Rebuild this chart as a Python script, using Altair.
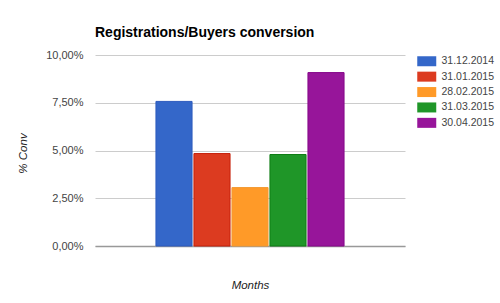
import altair as alt
import pandas as pd

dates = ["31.12.2014", "31.01.2015", "28.02.2015", "31.03.2015", "30.04.2015"]
conv = [0.0757, 0.0484, 0.0306, 0.0479, 0.0908]
fills = ["#3467c9", "#dc3b20", "#ff9a28", "#1f9628", "#97159a"]
strokes = ["#2d5bbd", "#c5200a", "#f39a33", "#0f7d15", "#86088a"]
ticks = [0, 0.025, 0.05, 0.075, 0.1]

df = pd.DataFrame({"group": ["Months"] * len(dates), "date": dates, "conv": conv})

font = "Liberation Sans"

chart = (
    alt.Chart(df)
    .mark_bar(strokeWidth=1)
    .encode(
        x=alt.X(
            "group:N",
            title="Months",
            scale=alt.Scale(paddingOuter=0.324, paddingInner=0),
            axis=alt.Axis(
                labels=False, ticks=False, domainColor="#999999", domainWidth=1.5,
                titleFont=font, titleFontSize=11.5, titleFontStyle="italic",
                titleFontWeight="normal", titleColor="#222222",
                titleBaseline="alphabetic", titleY=42,
            ),
        ),
        xOffset=alt.XOffset("date:N", sort=dates, scale=alt.Scale(paddingInner=0.05, paddingOuter=0)),
        y=alt.Y(
            "conv:Q",
            title="% Conv",
            scale=alt.Scale(domain=[0, 0.1], nice=False),
            axis=alt.Axis(
                values=ticks, labelExpr="replace(format(datum.value, '.2%'), '.', ',')",
                ticks=False, domain=False, gridColor="#cccccc", gridWidth=1,
                labelFont=font, labelFontSize=11, labelColor="#444444", labelPadding=12,
                titleFont=font, titleFontSize=11.5, titleFontStyle="italic",
                titleFontWeight="normal", titleColor="#222222",
                titleBaseline="alphabetic", titleX=-69, titleY=98, titleAngle=270,
            ),
        ),
        color=alt.Color(
            "date:N", sort=dates,
            scale=alt.Scale(domain=dates, range=fills),
            legend=alt.Legend(
                title=None, orient="none", legendX=326.5, legendY=1, padding=0,
                symbolType="M-1.9,-1H1.9V1H-1.9Z", symbolSize=100,
                symbolStrokeWidth=0, labelOffset=9.5, rowPadding=4.4,
                labelFont=font, labelFontSize=10.5, labelColor="#444444",
            ),
        ),
        stroke=alt.Stroke("date:N", sort=dates, scale=alt.Scale(domain=dates, range=strokes), legend=None),
    )
    .properties(
        width=310,
        height=191,
        autosize=alt.AutoSizeParams(type="none"),
        padding={"left": 95, "top": 55, "right": 95, "bottom": 57},
        title=alt.Title(
            "Registrations/Buyers conversion", anchor="start", frame="group",
            font=font, fontSize=14, fontWeight="bold", color="#000000",
            baseline="alphabetic", offset=17, dy=19,
        ),
    )
    .configure_view(stroke=None)
)

chart.save("out.html", embed_options={"renderer": "svg", "actions": False})
